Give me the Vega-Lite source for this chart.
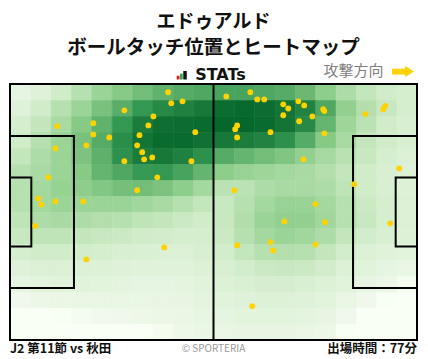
{
  "$schema": "https://vega.github.io/schema/vega-lite/v6.json",
  "width": 407,
  "height": 256,
  "autosize": "none",
  "padding": {"left": 10, "top": 84, "right": 11, "bottom": 19},
  "background": "#ffffff",
  "config": {"view": {"stroke": null}},
  "datasets": {
    "touches": [
      {"x":40.8,"y":2.2},{"x":41.6,"y":5.1},{"x":44.5,"y":4.6},{"x":29.5,"y":7.0},{"x":37.0,"y":8.6},
      {"x":12.2,"y":11.2},{"x":21.5,"y":10.4},{"x":35.7,"y":11.0},{"x":21.5,"y":13.4},{"x":25.6,"y":14.2},
      {"x":33.4,"y":13.6},{"x":47.8,"y":12.8},{"x":19.7,"y":16.3},{"x":32.8,"y":16.3},{"x":11.7,"y":17.1},
      {"x":34.1,"y":18.1},{"x":34.6,"y":20.0},{"x":36.7,"y":19.5},{"x":29.5,"y":20.5},{"x":46.8,"y":20.5},
      {"x":38.0,"y":24.8},{"x":9.9,"y":24.8},{"x":32.8,"y":28.2},{"x":7.3,"y":30.4},{"x":8.1,"y":32.0},
      {"x":11.7,"y":31.2},{"x":18.9,"y":31.2},{"x":6.5,"y":37.7},{"x":19.7,"y":46.6},{"x":39.8,"y":43.4},
      {"x":55.8,"y":3.3},{"x":62.0,"y":2.2},{"x":63.8,"y":4.1},{"x":65.6,"y":4.1},{"x":70.5,"y":5.4},
      {"x":71.8,"y":6.5},{"x":74.4,"y":4.6},{"x":75.9,"y":5.7},{"x":80.8,"y":6.7},{"x":81.1,"y":7.2},
      {"x":70.5,"y":8.3},{"x":74.6,"y":9.9},{"x":78.0,"y":8.6},{"x":91.7,"y":8.0},{"x":96.8,"y":5.8},
      {"x":96.3,"y":6.7},{"x":58.6,"y":11.0},{"x":58.1,"y":12.0},{"x":58.6,"y":14.2},{"x":67.2,"y":12.8},
      {"x":81.1,"y":13.1},{"x":75.7,"y":20.0},{"x":100.4,"y":22.4},{"x":88.8,"y":26.6},{"x":57.9,"y":28.2},
      {"x":78.8,"y":31.9},{"x":70.8,"y":36.5},{"x":81.3,"y":36.7},{"x":98.1,"y":37.0},{"x":58.6,"y":42.8},
      {"x":67.2,"y":42.0},{"x":67.9,"y":44.2},{"x":78.8,"y":42.6},{"x":62.5,"y":59.0}
    ],
    "pitch": [
      {"x1":0,"x2":105,"y1":0,"y2":68},
      {"x1":0,"x2":16.5,"y1":13.84,"y2":54.16},
      {"x1":0,"x2":5.5,"y1":24.84,"y2":43.16},
      {"x1":88.5,"x2":105,"y1":13.84,"y2":54.16},
      {"x1":99.5,"x2":105,"y1":24.84,"y2":43.16}
    ],
    "heat": [
      {"x":0,"y":0,"v":10},{"x":5.25,"y":0,"v":15},{"x":10.5,"y":0,"v":25},{"x":15.75,"y":0,"v":35},{"x":21,"y":0,"v":45},{"x":26.25,"y":0,"v":52},{"x":31.5,"y":0,"v":58},{"x":36.75,"y":0,"v":63},{"x":42,"y":0,"v":66},{"x":47.25,"y":0,"v":68},{"x":52.5,"y":0,"v":70},{"x":57.75,"y":0,"v":70},{"x":63,"y":0,"v":68},{"x":68.25,"y":0,"v":66},{"x":73.5,"y":0,"v":60},{"x":78.75,"y":0,"v":50},{"x":84,"y":0,"v":38},{"x":89.25,"y":0,"v":30},{"x":94.5,"y":0,"v":25},{"x":99.75,"y":0,"v":22},
      {"x":0,"y":4.25,"v":15},{"x":5.25,"y":4.25,"v":25},{"x":10.5,"y":4.25,"v":35},{"x":15.75,"y":4.25,"v":45},{"x":21,"y":4.25,"v":56},{"x":26.25,"y":4.25,"v":65},{"x":31.5,"y":4.25,"v":75},{"x":36.75,"y":4.25,"v":82},{"x":42,"y":4.25,"v":86},{"x":47.25,"y":4.25,"v":90},{"x":52.5,"y":4.25,"v":95},{"x":57.75,"y":4.25,"v":97},{"x":63,"y":4.25,"v":95},{"x":68.25,"y":4.25,"v":92},{"x":73.5,"y":4.25,"v":85},{"x":78.75,"y":4.25,"v":68},{"x":84,"y":4.25,"v":48},{"x":89.25,"y":4.25,"v":36},{"x":94.5,"y":4.25,"v":28},{"x":99.75,"y":4.25,"v":22},
      {"x":0,"y":8.5,"v":22},{"x":5.25,"y":8.5,"v":30},{"x":10.5,"y":8.5,"v":40},{"x":15.75,"y":8.5,"v":52},{"x":21,"y":8.5,"v":63},{"x":26.25,"y":8.5,"v":75},{"x":31.5,"y":8.5,"v":88},{"x":36.75,"y":8.5,"v":94},{"x":42,"y":8.5,"v":95},{"x":47.25,"y":8.5,"v":96},{"x":52.5,"y":8.5,"v":98},{"x":57.75,"y":8.5,"v":98},{"x":63,"y":8.5,"v":96},{"x":68.25,"y":8.5,"v":92},{"x":73.5,"y":8.5,"v":82},{"x":78.75,"y":8.5,"v":62},{"x":84,"y":8.5,"v":44},{"x":89.25,"y":8.5,"v":33},{"x":94.5,"y":8.5,"v":25},{"x":99.75,"y":8.5,"v":20},
      {"x":0,"y":12.75,"v":25},{"x":5.25,"y":12.75,"v":35},{"x":10.5,"y":12.75,"v":45},{"x":15.75,"y":12.75,"v":56},{"x":21,"y":12.75,"v":66},{"x":26.25,"y":12.75,"v":80},{"x":31.5,"y":12.75,"v":92},{"x":36.75,"y":12.75,"v":96},{"x":42,"y":12.75,"v":96},{"x":47.25,"y":12.75,"v":93},{"x":52.5,"y":12.75,"v":90},{"x":57.75,"y":12.75,"v":88},{"x":63,"y":12.75,"v":85},{"x":68.25,"y":12.75,"v":78},{"x":73.5,"y":12.75,"v":66},{"x":78.75,"y":12.75,"v":52},{"x":84,"y":12.75,"v":40},{"x":89.25,"y":12.75,"v":30},{"x":94.5,"y":12.75,"v":25},{"x":99.75,"y":12.75,"v":20},
      {"x":0,"y":17,"v":30},{"x":5.25,"y":17,"v":38},{"x":10.5,"y":17,"v":45},{"x":15.75,"y":17,"v":55},{"x":21,"y":17,"v":64},{"x":26.25,"y":17,"v":78},{"x":31.5,"y":17,"v":88},{"x":36.75,"y":17,"v":90},{"x":42,"y":17,"v":86},{"x":47.25,"y":17,"v":78},{"x":52.5,"y":17,"v":66},{"x":57.75,"y":17,"v":62},{"x":63,"y":17,"v":58},{"x":68.25,"y":17,"v":54},{"x":73.5,"y":17,"v":48},{"x":78.75,"y":17,"v":41},{"x":84,"y":17,"v":34},{"x":89.25,"y":17,"v":28},{"x":94.5,"y":17,"v":22},{"x":99.75,"y":17,"v":18},
      {"x":0,"y":21.25,"v":35},{"x":5.25,"y":21.25,"v":40},{"x":10.5,"y":21.25,"v":45},{"x":15.75,"y":21.25,"v":52},{"x":21,"y":21.25,"v":62},{"x":26.25,"y":21.25,"v":68},{"x":31.5,"y":21.25,"v":74},{"x":36.75,"y":21.25,"v":75},{"x":42,"y":21.25,"v":70},{"x":47.25,"y":21.25,"v":62},{"x":52.5,"y":21.25,"v":50},{"x":57.75,"y":21.25,"v":46},{"x":63,"y":21.25,"v":44},{"x":68.25,"y":21.25,"v":42},{"x":73.5,"y":21.25,"v":40},{"x":78.75,"y":21.25,"v":36},{"x":84,"y":21.25,"v":30},{"x":89.25,"y":21.25,"v":25},{"x":94.5,"y":21.25,"v":20},{"x":99.75,"y":21.25,"v":17},
      {"x":0,"y":25.5,"v":35},{"x":5.25,"y":25.5,"v":42},{"x":10.5,"y":25.5,"v":47},{"x":15.75,"y":25.5,"v":50},{"x":21,"y":25.5,"v":53},{"x":26.25,"y":25.5,"v":57},{"x":31.5,"y":25.5,"v":58},{"x":36.75,"y":25.5,"v":55},{"x":42,"y":25.5,"v":50},{"x":47.25,"y":25.5,"v":42},{"x":52.5,"y":25.5,"v":33},{"x":57.75,"y":25.5,"v":33},{"x":63,"y":25.5,"v":38},{"x":68.25,"y":25.5,"v":40},{"x":73.5,"y":25.5,"v":40},{"x":78.75,"y":25.5,"v":38},{"x":84,"y":25.5,"v":32},{"x":89.25,"y":25.5,"v":25},{"x":94.5,"y":25.5,"v":20},{"x":99.75,"y":25.5,"v":17},
      {"x":0,"y":29.75,"v":35},{"x":5.25,"y":29.75,"v":42},{"x":10.5,"y":29.75,"v":45},{"x":15.75,"y":29.75,"v":45},{"x":21,"y":29.75,"v":45},{"x":26.25,"y":29.75,"v":45},{"x":31.5,"y":29.75,"v":43},{"x":36.75,"y":29.75,"v":40},{"x":42,"y":29.75,"v":35},{"x":47.25,"y":29.75,"v":30},{"x":52.5,"y":29.75,"v":28},{"x":57.75,"y":29.75,"v":35},{"x":63,"y":29.75,"v":42},{"x":68.25,"y":29.75,"v":46},{"x":73.5,"y":29.75,"v":46},{"x":78.75,"y":29.75,"v":42},{"x":84,"y":29.75,"v":35},{"x":89.25,"y":29.75,"v":27},{"x":94.5,"y":29.75,"v":22},{"x":99.75,"y":29.75,"v":18},
      {"x":0,"y":34,"v":32},{"x":5.25,"y":34,"v":38},{"x":10.5,"y":34,"v":40},{"x":15.75,"y":34,"v":38},{"x":21,"y":34,"v":36},{"x":26.25,"y":34,"v":35},{"x":31.5,"y":34,"v":32},{"x":36.75,"y":34,"v":30},{"x":42,"y":34,"v":27},{"x":47.25,"y":34,"v":25},{"x":52.5,"y":34,"v":28},{"x":57.75,"y":34,"v":37},{"x":63,"y":34,"v":45},{"x":68.25,"y":34,"v":48},{"x":73.5,"y":34,"v":48},{"x":78.75,"y":34,"v":43},{"x":84,"y":34,"v":35},{"x":89.25,"y":34,"v":28},{"x":94.5,"y":34,"v":22},{"x":99.75,"y":34,"v":18},
      {"x":0,"y":38.25,"v":28},{"x":5.25,"y":38.25,"v":32},{"x":10.5,"y":38.25,"v":32},{"x":15.75,"y":38.25,"v":30},{"x":21,"y":38.25,"v":28},{"x":26.25,"y":38.25,"v":27},{"x":31.5,"y":38.25,"v":25},{"x":36.75,"y":38.25,"v":23},{"x":42,"y":38.25,"v":22},{"x":47.25,"y":38.25,"v":22},{"x":52.5,"y":38.25,"v":27},{"x":57.75,"y":38.25,"v":35},{"x":63,"y":38.25,"v":42},{"x":68.25,"y":38.25,"v":45},{"x":73.5,"y":38.25,"v":43},{"x":78.75,"y":38.25,"v":38},{"x":84,"y":38.25,"v":30},{"x":89.25,"y":38.25,"v":24},{"x":94.5,"y":38.25,"v":20},{"x":99.75,"y":38.25,"v":16},
      {"x":0,"y":42.5,"v":22},{"x":5.25,"y":42.5,"v":25},{"x":10.5,"y":42.5,"v":25},{"x":15.75,"y":42.5,"v":24},{"x":21,"y":42.5,"v":22},{"x":26.25,"y":42.5,"v":20},{"x":31.5,"y":42.5,"v":19},{"x":36.75,"y":42.5,"v":18},{"x":42,"y":42.5,"v":18},{"x":47.25,"y":42.5,"v":20},{"x":52.5,"y":42.5,"v":24},{"x":57.75,"y":42.5,"v":30},{"x":63,"y":42.5,"v":35},{"x":68.25,"y":42.5,"v":36},{"x":73.5,"y":42.5,"v":35},{"x":78.75,"y":42.5,"v":30},{"x":84,"y":42.5,"v":24},{"x":89.25,"y":42.5,"v":18},{"x":94.5,"y":42.5,"v":14},{"x":99.75,"y":42.5,"v":12},
      {"x":0,"y":46.75,"v":15},{"x":5.25,"y":46.75,"v":18},{"x":10.5,"y":46.75,"v":18},{"x":15.75,"y":46.75,"v":18},{"x":21,"y":46.75,"v":17},{"x":26.25,"y":46.75,"v":15},{"x":31.5,"y":46.75,"v":14},{"x":36.75,"y":46.75,"v":14},{"x":42,"y":46.75,"v":14},{"x":47.25,"y":46.75,"v":16},{"x":52.5,"y":46.75,"v":20},{"x":57.75,"y":46.75,"v":24},{"x":63,"y":46.75,"v":27},{"x":68.25,"y":46.75,"v":28},{"x":73.5,"y":46.75,"v":27},{"x":78.75,"y":46.75,"v":23},{"x":84,"y":46.75,"v":18},{"x":89.25,"y":46.75,"v":13},{"x":94.5,"y":46.75,"v":10},{"x":99.75,"y":46.75,"v":8},
      {"x":0,"y":51,"v":10},{"x":5.25,"y":51,"v":12},{"x":10.5,"y":51,"v":13},{"x":15.75,"y":51,"v":13},{"x":21,"y":51,"v":12},{"x":26.25,"y":51,"v":11},{"x":31.5,"y":51,"v":10},{"x":36.75,"y":51,"v":10},{"x":42,"y":51,"v":11},{"x":47.25,"y":51,"v":13},{"x":52.5,"y":51,"v":16},{"x":57.75,"y":51,"v":19},{"x":63,"y":51,"v":21},{"x":68.25,"y":51,"v":21},{"x":73.5,"y":51,"v":20},{"x":78.75,"y":51,"v":17},{"x":84,"y":51,"v":13},{"x":89.25,"y":51,"v":9},{"x":94.5,"y":51,"v":6},{"x":99.75,"y":51,"v":2},
      {"x":0,"y":55.25,"v":4},{"x":5.25,"y":55.25,"v":6},{"x":10.5,"y":55.25,"v":7},{"x":15.75,"y":55.25,"v":8},{"x":21,"y":55.25,"v":8},{"x":26.25,"y":55.25,"v":8},{"x":31.5,"y":55.25,"v":8},{"x":36.75,"y":55.25,"v":8},{"x":42,"y":55.25,"v":9},{"x":47.25,"y":55.25,"v":11},{"x":52.5,"y":55.25,"v":13},{"x":57.75,"y":55.25,"v":15},{"x":63,"y":55.25,"v":16},{"x":68.25,"y":55.25,"v":16},{"x":73.5,"y":55.25,"v":15},{"x":78.75,"y":55.25,"v":12},{"x":84,"y":55.25,"v":8},{"x":89.25,"y":55.25,"v":4},{"x":94.5,"y":55.25,"v":1},{"x":99.75,"y":55.25,"v":0},
      {"x":0,"y":59.5,"v":0},{"x":5.25,"y":59.5,"v":0},{"x":10.5,"y":59.5,"v":1},{"x":15.75,"y":59.5,"v":2},{"x":21,"y":59.5,"v":3},{"x":26.25,"y":59.5,"v":4},{"x":31.5,"y":59.5,"v":5},{"x":36.75,"y":59.5,"v":6},{"x":42,"y":59.5,"v":7},{"x":47.25,"y":59.5,"v":9},{"x":52.5,"y":59.5,"v":10},{"x":57.75,"y":59.5,"v":12},{"x":63,"y":59.5,"v":12},{"x":68.25,"y":59.5,"v":12},{"x":73.5,"y":59.5,"v":11},{"x":78.75,"y":59.5,"v":9},{"x":84,"y":59.5,"v":4},{"x":89.25,"y":59.5,"v":0},{"x":94.5,"y":59.5,"v":0},{"x":99.75,"y":59.5,"v":0},
      {"x":0,"y":63.75,"v":0},{"x":5.25,"y":63.75,"v":0},{"x":10.5,"y":63.75,"v":0},{"x":15.75,"y":63.75,"v":0},{"x":21,"y":63.75,"v":0},{"x":26.25,"y":63.75,"v":0},{"x":31.5,"y":63.75,"v":0},{"x":36.75,"y":63.75,"v":2},{"x":42,"y":63.75,"v":5},{"x":47.25,"y":63.75,"v":7},{"x":52.5,"y":63.75,"v":8},{"x":57.75,"y":63.75,"v":9},{"x":63,"y":63.75,"v":9},{"x":68.25,"y":63.75,"v":9},{"x":73.5,"y":63.75,"v":8},{"x":78.75,"y":63.75,"v":6},{"x":84,"y":63.75,"v":1},{"x":89.25,"y":63.75,"v":0},{"x":94.5,"y":63.75,"v":0},{"x":99.75,"y":63.75,"v":0}
    ]
  },
  "layer": [
    {
      "data": {"name": "heat"},
      "mark": {"type": "rect", "strokeWidth": 0.6},
      "encoding": {
        "x": {"field": "x", "type": "quantitative", "bin": {"binned": true, "step": 5.25}, "scale": {"domain": [0, 105], "nice": false, "zero": false}, "axis": null},
        "y": {"field": "y", "type": "quantitative", "bin": {"binned": true, "step": 4.25}, "scale": {"domain": [0, 68], "nice": false, "zero": false, "reverse": true}, "axis": null},
        "fill": {"field": "v", "type": "quantitative", "legend": null, "scale": {"domain": [0, 3, 25, 50, 75, 100], "range": ["#ffffff", "#f0f9ec", "#d0ecc9", "#8dce8b", "#329852", "#006329"]}},
        "stroke": {"field": "v", "type": "quantitative", "legend": null, "scale": {"domain": [0, 3, 25, 50, 75, 100], "range": ["#ffffff", "#f0f9ec", "#d0ecc9", "#8dce8b", "#329852", "#006329"]}}
      }
    },
    {
      "data": {"name": "pitch"},
      "mark": {"type": "rect", "filled": false, "stroke": "#000000", "strokeWidth": 2, "fill": null},
      "encoding": {
        "x": {"field": "x1", "type": "quantitative"},
        "x2": {"field": "x2"},
        "y": {"field": "y1", "type": "quantitative"},
        "y2": {"field": "y2"}
      }
    },
    {
      "data": {"values": [{}]},
      "mark": {"type": "rule", "stroke": "#000000", "strokeWidth": 2},
      "encoding": {
        "x": {"datum": 52.5, "type": "quantitative"},
        "y": {"datum": 0, "type": "quantitative"},
        "y2": {"datum": 68}
      }
    },
    {
      "data": {"name": "touches"},
      "mark": {"type": "circle", "size": 34, "color": "#FFD200", "opacity": 1},
      "encoding": {
        "x": {"field": "x", "type": "quantitative"},
        "y": {"field": "y", "type": "quantitative"}
      }
    },
    {
      "data": {"values": [{}]},
      "mark": {"type": "text", "text": "エドゥアルド", "font": "Noto Sans CJK JP", "fontWeight": "bold", "fontSize": 19, "color": "#111111", "align": "center", "baseline": "middle"},
      "encoding": {"x": {"datum": 52.5, "type": "quantitative"}, "y": {"datum": -16.5, "type": "quantitative"}}
    },
    {
      "data": {"values": [{}]},
      "mark": {"type": "text", "text": "ボールタッチ位置とヒートマップ", "font": "Noto Sans CJK JP", "fontWeight": "bold", "fontSize": 19.5, "color": "#111111", "align": "center", "baseline": "middle"},
      "encoding": {"x": {"datum": 52.5, "type": "quantitative"}, "y": {"datum": -9.65, "type": "quantitative"}}
    },
    {
      "data": {"values": [{}]},
      "mark": {"type": "text", "text": "STATs", "font": "DejaVu Sans", "fontWeight": "bold", "fontSize": 16, "color": "#111111", "align": "center", "baseline": "middle"},
      "encoding": {"x": {"datum": 54.3, "type": "quantitative"}, "y": {"datum": -2.3, "type": "quantitative"}}
    },
    {
      "data": {"values": [{}]},
      "mark": {"type": "rect", "color": "#e02020"},
      "encoding": {"x": {"datum": 43.0, "type": "quantitative"}, "x2": {"datum": 43.73}, "y": {"datum": -2.2, "type": "quantitative"}, "y2": {"datum": -1.2}}
    },
    {
      "data": {"values": [{}]},
      "mark": {"type": "rect", "color": "#2aa845"},
      "encoding": {"x": {"datum": 43.86, "type": "quantitative"}, "x2": {"datum": 44.55}, "y": {"datum": -2.75, "type": "quantitative"}, "y2": {"datum": -1.2}}
    },
    {
      "data": {"values": [{}]},
      "mark": {"type": "rect", "color": "#111111"},
      "encoding": {"x": {"datum": 44.7, "type": "quantitative"}, "x2": {"datum": 45.6}, "y": {"datum": -3.45, "type": "quantitative"}, "y2": {"datum": -1.2}}
    },
    {
      "data": {"values": [{}]},
      "mark": {"type": "text", "text": "攻撃方向", "font": "Noto Sans CJK JP", "fontSize": 15, "color": "#808080", "align": "center", "baseline": "middle"},
      "encoding": {"x": {"datum": 88.6, "type": "quantitative"}, "y": {"datum": -3.4, "type": "quantitative"}}
    },
    {
      "data": {"values": [{}]},
      "mark": {"type": "point", "filled": true, "color": "#FFD200", "opacity": 1, "size": 484, "shape": "M-1,-0.26 L0.18,-0.26 L0.18,-0.5 L1,0 L0.18,0.5 L0.18,0.26 L-1,0.26 Z"},
      "encoding": {"x": {"datum": 101.4, "type": "quantitative"}, "y": {"datum": -3.3, "type": "quantitative"}}
    },
    {
      "data": {"values": [{}]},
      "mark": {"type": "text", "text": "J2 第11節 vs 秋田", "font": "Noto Sans CJK JP", "fontWeight": "bold", "fontSize": 12.5, "color": "#111111", "align": "left", "baseline": "middle"},
      "encoding": {"x": {"datum": 0, "type": "quantitative"}, "y": {"datum": 70.4, "type": "quantitative"}}
    },
    {
      "data": {"values": [{}]},
      "mark": {"type": "text", "text": "© SPORTERIA", "font": "Noto Sans CJK JP", "fontSize": 10, "color": "#999999", "align": "center", "baseline": "middle"},
      "encoding": {"x": {"datum": 52.5, "type": "quantitative"}, "y": {"datum": 70.4, "type": "quantitative"}}
    },
    {
      "data": {"values": [{}]},
      "mark": {"type": "text", "text": "出場時間：77分", "font": "Noto Sans CJK JP", "fontWeight": "bold", "fontSize": 12.5, "color": "#111111", "align": "right", "baseline": "middle"},
      "encoding": {"x": {"datum": 105, "type": "quantitative"}, "y": {"datum": 70.4, "type": "quantitative"}}
    }
  ]
}
